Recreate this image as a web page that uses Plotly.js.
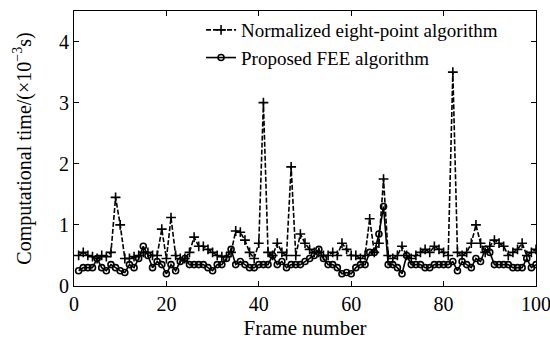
<!DOCTYPE html>
<html><head><meta charset="utf-8">
<script src="https://cdn.plot.ly/plotly-3.0.1.min.js"></script>
<style>body{margin:0;background:#fff}#c{width:550px;height:340px}</style>
</head><body><div id="c"></div>
<script>
const frames = [];
for (let i = 1; i <= 100; i++) frames.push(i);
const normalized = [0.5,0.55,0.5,0.48,0.45,0.5,0.48,0.55,1.45,1.0,
0.45,0.45,0.48,0.5,0.55,0.55,0.5,0.5,0.93,0.45,
1.12,0.5,0.45,0.45,0.55,0.8,0.65,0.65,0.6,0.55,
0.5,0.48,0.48,0.55,0.9,0.88,0.75,0.55,0.45,0.7,
3.0,0.55,0.5,0.7,0.55,0.5,1.95,0.5,0.85,0.7,
0.6,0.55,0.55,0.5,0.5,0.55,0.5,0.7,0.6,0.5,
0.5,0.45,0.5,1.1,0.55,0.7,1.75,0.5,0.45,0.5,
0.65,0.5,0.45,0.5,0.55,0.6,0.55,0.65,0.6,0.55,
0.5,3.5,0.55,0.5,0.55,0.7,1.0,0.7,0.55,0.65,
0.75,0.7,0.65,0.5,0.55,0.6,0.7,0.5,0.55,0.6];
const fee = [0.25,0.3,0.3,0.3,0.45,0.3,0.25,0.35,0.3,0.25,
0.22,0.35,0.3,0.45,0.65,0.5,0.3,0.4,0.35,0.2,
0.35,0.25,0.4,0.45,0.35,0.35,0.35,0.35,0.3,0.25,
0.35,0.35,0.45,0.6,0.35,0.4,0.35,0.3,0.3,0.35,
0.35,0.35,0.5,0.35,0.4,0.3,0.35,0.35,0.35,0.4,
0.45,0.5,0.6,0.45,0.35,0.35,0.3,0.2,0.22,0.2,
0.3,0.35,0.35,0.55,0.55,0.85,1.3,0.35,0.35,0.3,
0.2,0.5,0.35,0.35,0.35,0.3,0.3,0.35,0.35,0.35,
0.35,0.4,0.25,0.4,0.35,0.3,0.45,0.4,0.6,0.55,
0.35,0.35,0.35,0.35,0.3,0.3,0.3,0.45,0.3,0.35];
const xTicks = [0,20,40,60,80,100];
const yTicks = [0,1,2,3,4];

const traces = [
 {x: frames, y: normalized, name: 'Normalized eight-point algorithm', mode: 'lines+markers',
  line: {color: '#000', width: 1.6, dash: '5px,2px'},
  marker: {symbol: 'cross-thin', size: 7, line: {color: '#000', width: 1.6}}},
 {x: frames, y: fee, name: 'Proposed FEE algorithm', mode: 'lines+markers',
  line: {color: '#000', width: 1.6},
  marker: {symbol: 'circle-open', size: 6, color: '#000', line: {color: '#000', width: 1.6}}}
];
const axisCommon = {showline: true, mirror: 'ticks', linecolor: '#000', linewidth: 1,
  ticks: 'inside', ticklen: 5, tickcolor: '#000', showgrid: false, zeroline: false,
  ticklabeloverflow: 'allow',
  tickfont: {family: 'Liberation Serif', size: 20, color: '#000'}};
const layout = {
  width: 550, height: 340,
  margin: {l: 74, r: 14, t: 11, b: 54},
  paper_bgcolor: '#fff', plot_bgcolor: '#fff',
  font: {family: 'Liberation Serif', color: '#000'},
  showlegend: true,
  legend: {x: 0.275, y: 1.0, xanchor: 'left', yanchor: 'top', bgcolor: 'rgba(255,255,255,0)',
    font: {family: 'Liberation Serif', size: 19, color: '#000'}, tracegroupgap: 0},
  xaxis: Object.assign({}, axisCommon, {range: [0, 100], tickvals: xTicks, automargin: false,
    title: {text: 'Frame number', font: {family: 'Liberation Serif', size: 21}, standoff: 6}}),
  yaxis: Object.assign({}, axisCommon, {range: [0, 4.5], tickvals: yTicks, automargin: false,
    title: {text: 'Computational time/(×10<sup>−3</sup>s)', font: {family: 'Liberation Serif', size: 20}, standoff: 22}})
};
Plotly.newPlot('c', traces, layout, {displayModeBar: false});
</script></body></html>
